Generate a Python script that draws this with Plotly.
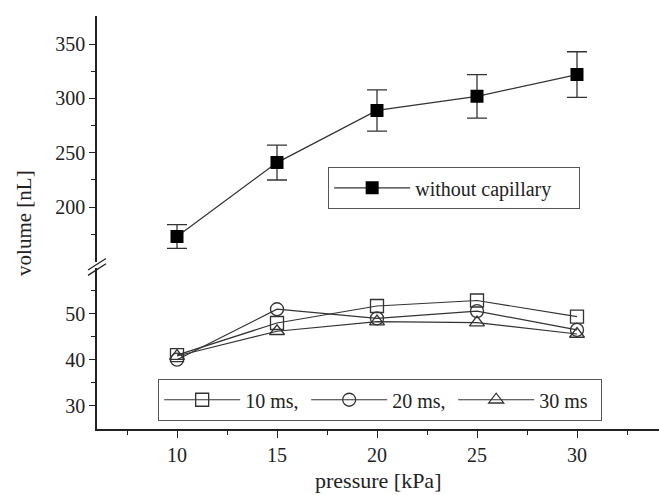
import plotly.graph_objects as go

pressure = [10, 15, 20, 25, 30]
without_cap = [173, 241, 289, 302, 322]
without_cap_err = [11, 16, 19, 20, 21]
ms10 = [41.0, 48.0, 51.7, 52.9, 49.4]
ms20 = [40.0, 51.0, 49.0, 50.6, 46.5]
ms30 = [40.8, 46.2, 48.3, 48.1, 45.6]

FONT = "Liberation Serif"
LC = "#333333"

fig = go.Figure()
fig.add_trace(go.Scatter(
    x=pressure, y=without_cap, xaxis="x", yaxis="y2", mode="lines+markers",
    name="without capillary", legend="legend",
    line=dict(color=LC, width=1.2),
    marker=dict(symbol="square", size=13, color="black"),
    error_y=dict(type="data", array=without_cap_err, visible=True,
                 color=LC, thickness=1.3, width=10),
))
for vals, sym, nm in [(ms10, "square-open", "10 ms,"),
                      (ms20, "circle-open", "20 ms,"),
                      (ms30, "triangle-up-open", "30 ms")]:
    fig.add_trace(go.Scatter(
        x=pressure, y=vals, xaxis="x", yaxis="y", mode="lines+markers",
        name=nm, legend="legend2",
        line=dict(color=LC, width=1.2),
        marker=dict(symbol=sym, size=13, color=LC, line=dict(width=1.3, color=LC)),
    ))

tickfont = dict(family=FONT, size=20, color="#222")
fig.update_layout(
    width=659, height=495,
    margin=dict(l=97, r=0, t=16, b=66),
    paper_bgcolor="white", plot_bgcolor="white",
    font=dict(family=FONT, size=20, color="#222"),
    showlegend=True,
    xaxis=dict(domain=[0, 1], range=[6, 34.1], anchor="y",
               tickvals=[10, 15, 20, 25, 30], ticks="outside", ticklen=7,
               tickwidth=1.3, tickcolor="#222",
               minor=dict(tickvals=[7.5, 12.5, 17.5, 22.5, 27.5, 32.5],
                          ticks="outside", ticklen=4, tickwidth=1.3, tickcolor="#222"),
               showline=True, linecolor="#222", linewidth=1.5,
               showgrid=False, zeroline=False, tickfont=tickfont),
    yaxis=dict(domain=[0, 0.39], range=[24.9, 60], anchor="x",
               tickvals=[30, 40, 50], ticks="outside", ticklen=6,
               tickwidth=1.3, tickcolor="#222",
               minor=dict(tickvals=[35, 45, 55], ticks="outside", ticklen=4,
                          tickwidth=1.3, tickcolor="#222"),
               showline=True, linecolor="#222", linewidth=1.5,
               showgrid=False, zeroline=False, tickfont=tickfont),
    yaxis2=dict(domain=[0.404, 1], range=[149.4, 375.9], anchor="x",
                tickvals=[200, 250, 300, 350], ticks="outside", ticklen=6,
                tickwidth=1.3, tickcolor="#222",
                minor=dict(tickvals=[175, 225, 275, 325], ticks="outside", ticklen=4,
                           tickwidth=1.3, tickcolor="#222"),
                showline=True, linecolor="#222", linewidth=1.5,
                showgrid=False, zeroline=False, tickfont=tickfont),
    legend=dict(x=0.411, y=0.634, xanchor="left", yanchor="top",
                orientation="h", entrywidth=158, entrywidthmode="pixels",
                itemwidth=76,
                bordercolor="#555", borderwidth=1.2, bgcolor="white",
                font=dict(family=FONT, size=20, color="#222")),
    legend2=dict(x=0.1085, y=0.121, xanchor="left", yanchor="top",
                 orientation="h", entrywidth=56, entrywidthmode="pixels",
                 itemwidth=76,
                 bordercolor="#555", borderwidth=1.2, bgcolor="white",
                 font=dict(family=FONT, size=20, color="#222")),
    annotations=[
        dict(text="volume [nL]", xref="paper", yref="paper", x=-0.131, y=0.5,
             xanchor="center", yanchor="middle", textangle=-90, showarrow=False,
             font=dict(family=FONT, size=21, color="#222")),
        dict(text="pressure [kPa]", xref="paper", yref="paper", x=0.5, y=-0.125,
             xanchor="center", yanchor="middle", showarrow=False,
             font=dict(family=FONT, size=22, color="#222")),
    ],
    shapes=[
        dict(type="line", xref="paper", yref="paper", x0=-0.016, x1=0.016,
             y0=0.372, y1=0.400, line=dict(color="#222", width=1.3)),
        dict(type="line", xref="paper", yref="paper", x0=-0.016, x1=0.016,
             y0=0.385, y1=0.413, line=dict(color="#222", width=1.3)),
    ],
)

fig.write_html("out.html", config={"displayModeBar": False},
               post_script="document.body.style.margin='0';document.body.style.padding='0';")
